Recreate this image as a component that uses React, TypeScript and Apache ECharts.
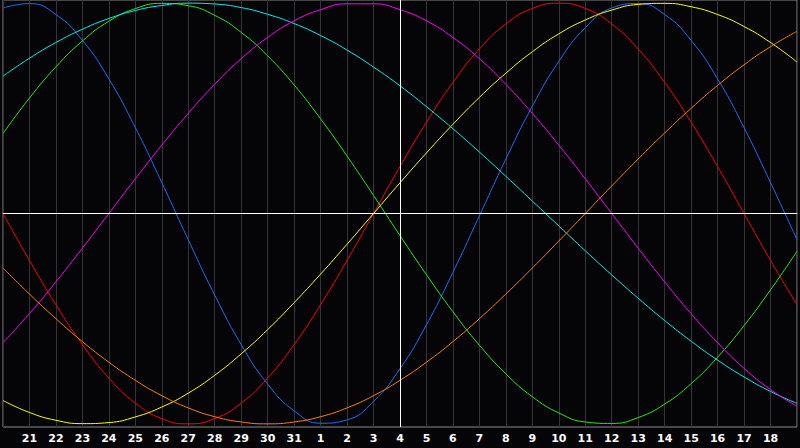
import React, { useEffect, useRef } from "react";
import * as echarts from "echarts";

const dayLabels = [
  "20", "21", "22", "23", "24", "25", "26", "27", "28", "29", "30", "31",
  "1", "2", "3", "4", "5", "6", "7", "8", "9", "10", "11", "12", "13", "14",
  "15", "16", "17", "18", "19",
];

const blueValues = [
  0.977, 0.998, 0.946, 0.823, 0.64, 0.408, 0.147, -0.125, -0.388, -0.623,
  -0.811, -0.938, -0.997, -0.981, -0.893, -0.738, -0.529, -0.28, -0.011, 0.259,
  0.51, 0.723, 0.883, 0.977, 0.998, 0.946, 0.823, 0.64, 0.408, 0.147, -0.125,
];
const redValues = [
  0, -0.223, -0.434, -0.623, -0.782, -0.901, -0.975, -1, -0.975, -0.901,
  -0.782, -0.623, -0.434, -0.223, 0, 0.223, 0.434, 0.623, 0.782, 0.901,
  0.975, 1, 0.975, 0.901, 0.782, 0.623, 0.434, 0.223, 0, -0.223, -0.434,
];
const greenValues = [
  0.38, 0.549, 0.697, 0.82, 0.914, 0.974, 0.999, 0.988, 0.942, 0.861,
  0.749, 0.611, 0.45, 0.273, 0.086, -0.105, -0.291, -0.467, -0.626, -0.762,
  -0.871, -0.948, -0.991, -0.998, -0.97, -0.906, -0.809, -0.683, -0.533, -0.363, -0.18,
];
const yellowValues = [
  -0.889, -0.946, -0.983, -0.999, -0.994, -0.967, -0.92, -0.854, -0.769, -0.667,
  -0.552, -0.424, -0.288, -0.146, 0, 0.146, 0.288, 0.424, 0.552, 0.667,
  0.769, 0.854, 0.92, 0.967, 0.994, 0.999, 0.983, 0.946, 0.889, 0.813, 0.72,
];
const cyanValues = [
  0.653, 0.738, 0.813, 0.876, 0.927, 0.965, 0.989, 1.0, 0.996, 0.979,
  0.947, 0.903, 0.846, 0.777, 0.696, 0.607, 0.508, 0.403, 0.292, 0.177,
  0.059, -0.059, -0.177, -0.292, -0.403, -0.509, -0.607, -0.697, -0.777, -0.846, -0.903,
];
const magentaValues = [
  -0.614, -0.476, -0.325, -0.165, 0, 0.165, 0.325, 0.476, 0.614, 0.736,
  0.837, 0.916, 0.969, 0.997, 0.997, 0.969, 0.916, 0.837, 0.736, 0.614,
  0.476, 0.325, 0.165, 0, -0.165, -0.325, -0.476, -0.614, -0.736, -0.837, -0.916,
];
const orangeValues = [
  -0.259, -0.383, -0.5, -0.609, -0.707, -0.793, -0.866, -0.924, -0.966, -0.991,
  -1, -0.991, -0.966, -0.924, -0.866, -0.793, -0.707, -0.609, -0.5, -0.383,
  -0.259, -0.131, 0, 0.131, 0.259, 0.383, 0.5, 0.609, 0.707, 0.793, 0.866,
];

const todayIndex = 15;

const seriesDefs = [
  { name: "blue", color: "#1a6cff", data: blueValues },
  { name: "red", color: "#ff0000", data: redValues },
  { name: "green", color: "#22ee11", data: greenValues },
  { name: "yellow", color: "#ffff00", data: yellowValues },
  { name: "cyan", color: "#00f0f0", data: cyanValues },
  { name: "magenta", color: "#ff00ff", data: magentaValues },
  { name: "orange", color: "#ff7f00", data: orangeValues },
];

export default function App() {
  const ref = useRef<HTMLDivElement>(null);

  useEffect(() => {
    if (!ref.current) return;
    const chart = echarts.init(ref.current, null, { renderer: "svg" });
    const series: any[] = seriesDefs.map((s) => ({
      name: s.name,
      type: "line",
      data: s.data,
      smooth: 0.5,
      showSymbol: false,
      symbol: "none",
      lineStyle: { color: s.color, width: 1 },
      itemStyle: { color: s.color },
      z: 3,
    }));
    series.unshift({
      name: "ref",
      type: "line",
      data: [],
      showSymbol: false,
      z: 2,
      markLine: {
        silent: true,
        symbol: "none",
        animation: false,
        label: { show: false },
        lineStyle: { color: "#ffffff", width: 1, type: "solid" },
        data: [{ yAxis: 0 }, { xAxis: todayIndex }],
      },
    });
    chart.setOption({
      animation: false,
      backgroundColor: "#050507",
      grid: {
        left: 0,
        right: 0,
        top: 0,
        bottom: 21,
        show: true,
        borderColor: "#8a8a8a",
        borderWidth: 1,
        backgroundColor: "transparent",
      },
      xAxis: {
        type: "category",
        data: dayLabels,
        boundaryGap: false,
        axisLine: { show: true, lineStyle: { color: "#9a9a9a", width: 1 } },
        axisTick: { show: false },
        splitLine: { show: true, interval: 0, lineStyle: { color: "#333338", width: 1 } },
        axisLabel: {
          interval: 0,
          color: "#ffffff",
          fontFamily: "DejaVu Sans",
          fontWeight: "bold",
          fontSize: 11,
          margin: 6,
          formatter: (v: string, i: number) => (i === 0 || i === dayLabels.length - 1 ? "" : v),
        },
      },
      yAxis: {
        type: "value",
        min: -1.015,
        max: 1.015,
        show: false,
        splitLine: { show: false },
      },
      series,
    });
    return () => chart.dispose();
  }, []);

  return (
    <div
      ref={ref}
      style={{ position: "absolute", left: 0, top: 0, width: 800, height: 448 }}
    />
  );
}
